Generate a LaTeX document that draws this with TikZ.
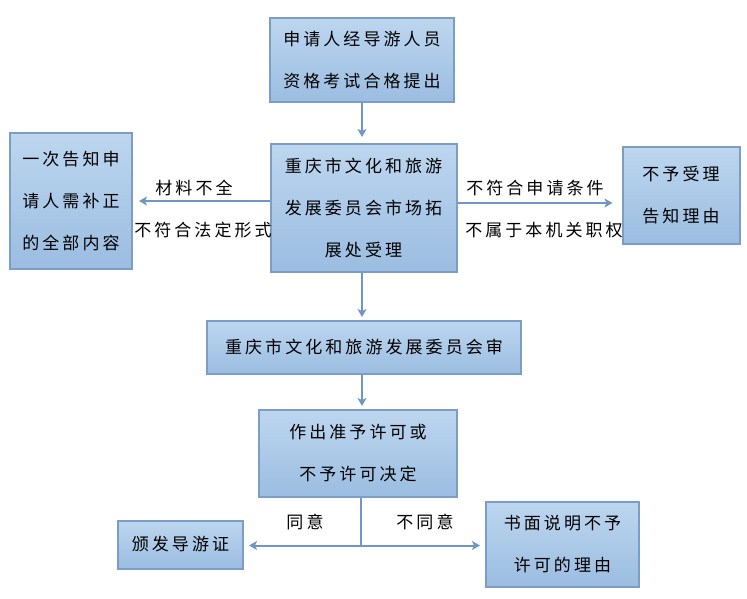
\documentclass[tikz,border=0pt]{standalone}
\usepackage{fontspec}
\newfontfamily\cjk[LetterSpace=18]{Noto Sans CJK SC}
\usetikzlibrary{arrows.meta}
\definecolor{boxtop}{HTML}{BDD6EF}
\definecolor{boxbot}{HTML}{9BBDE1}
\definecolor{boxline}{HTML}{7C9DC8}
\definecolor{arrline}{HTML}{6F96C4}
\tikzset{
  box/.style={draw=boxline, line width=2pt, top color=boxtop, bottom color=boxbot,
    rectangle, inner sep=0pt, align=center, font=\cjk\fontsize{17}{42}\selectfont},
  lbl/.style={inner sep=0pt, font=\cjk\fontsize{17}{20}\selectfont},
  arr/.style={draw=arrline, line width=2pt, -{Stealth[length=8pt,width=9pt,inset=2pt]}},
  ln/.style={draw=arrline, line width=2pt}
}
\begin{document}
\begin{tikzpicture}[x=1pt,y=-1pt]
\useasboundingbox (0,0) rectangle (747,599);
\node[box, minimum width=184pt, minimum height=84pt] (b1) at (362,60.5) {申请人经导游人员\\资格考试合格提出};
\node[box, minimum width=186pt, minimum height=128pt] (b2) at (363.5,208) {重庆市文化和旅游\\发展委员会市场拓\\展处受理};
\node[box, minimum width=122pt, minimum height=136pt] (bl) at (71,201) {一次告知申\\请人需补正\\的全部内容};
\node[box, minimum width=117pt, minimum height=97pt] (br) at (681,195.5) {不予受理\\告知理由};
\node[box, minimum width=314pt, minimum height=53pt] (b3) at (364,347.5) {重庆市文化和旅游发展委员会审};
\node[box, minimum width=198pt, minimum height=87pt] (b4) at (358,453.5) {作出准予许可或\\不予许可决定};
\node[box, minimum width=125pt, minimum height=48pt] (b5) at (180.5,544.5) {颁发导游证};
\node[box, minimum width=153pt, minimum height=85pt] (b6) at (562.5,544) {书面说明不予\\许可的理由};

\node[lbl] (t1) at (194,188) {材料不全};
\node[lbl] (t2) at (203,230) {不符合法定形式};
\node[lbl] (t3) at (535,188) {不符合申请条件};
\node[lbl] (t4) at (544,230) {不属于本机关职权};
\node[lbl] (t5) at (305,522) {同意};
\node[lbl] (t6) at (425,522) {不同意};

\coordinate (a1) at (362,102);
\draw[arr, shorten >=6pt] (a1 |- b1.south) -- (a1 |- b2.north);
\coordinate (a2) at (362,272);
\draw[arr, shorten >=3pt] (a2 |- b2.south) -- (a2 |- b3.north);
\coordinate (a3) at (362,374);
\draw[arr, shorten >=3pt] (a3 |- b3.south) -- (a3 |- b4.north);
\coordinate (ly) at (0,201);
\draw[arr, shorten >=6pt] (b2.west |- ly) -- (bl.east |- ly);
\coordinate (ry) at (0,203);
\draw[arr, shorten >=9pt] (b2.east |- ry) -- (br.west |- ry);
\coordinate (j) at (360.5,545.5);
\draw[ln] (j |- b4.south) -- (j);
\draw[arr, shorten >=5pt] (j) -- (b5.east |- j);
\draw[arr, shorten >=5pt] (j) -- (b6.west |- j);
\end{tikzpicture}
\end{document}
